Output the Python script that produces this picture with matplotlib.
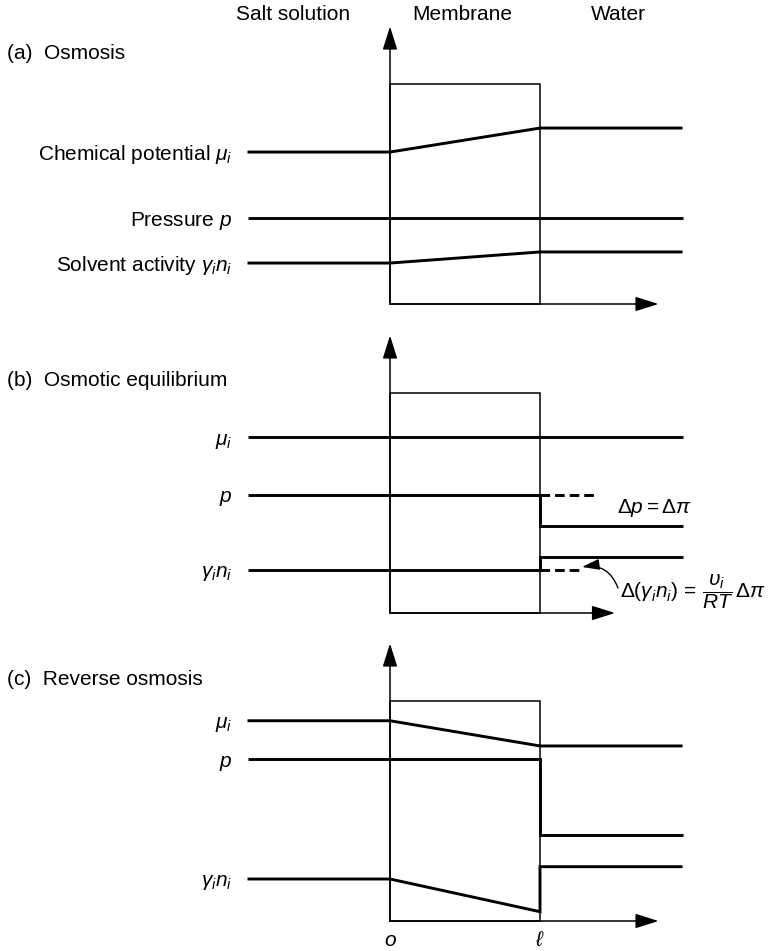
import matplotlib
matplotlib.use("Agg")
import matplotlib.pyplot as plt
from matplotlib.patches import Rectangle

plt.rcParams.update({
    "font.family": "Liberation Sans",
    "font.size": 15,
    "mathtext.fontset": "custom",
    "mathtext.rm": "Liberation Sans",
    "mathtext.it": "Liberation Sans:italic",
    "mathtext.bf": "Liberation Sans:bold",
})

# x positions along the path: solution edge, face o, face l (inside), face l (water side), water edge
x_path = [-0.95, 0.0, 1.0, 1.0, 1.95]

# profiles (1 unit = membrane thickness)
mu_a = [1.013, 1.013, 1.173, 1.173, 1.173]
p_a = [0.573, 0.573, 0.573, 0.573, 0.573]
g_a = [0.273, 0.273, 0.347, 0.347, 0.347]

mu_b = [1.173, 1.173, 1.173, 1.173, 1.173]
p_b = [0.787, 0.787, 0.787, 0.58, 0.58]
g_b = [0.287, 0.287, 0.287, 0.373, 0.373]

mu_c = [1.335, 1.335, 1.167, 1.167, 1.167]
p_c = [1.078, 1.078, 1.078, 0.573, 0.573]
g_c = [0.28, 0.28, 0.062, 0.362, 0.362]

labels_a = [r"Chemical potential $\mu_i$", r"Pressure $p$", r"Solvent activity $\gamma_i n_i$"]
labels_short = [r"$\mu_i$", r"$p$", r"$\gamma_i n_i$"]
titles = ["(a)  Osmosis", "(b)  Osmotic equilibrium", "(c)  Reverse osmosis"]
regions = ["Salt solution", "Membrane", "Water"]
region_x = [-0.647, 0.48, 1.52]

# dashed "old level" continuations in panel (b)
dash_x_p = [1.0, 1.38]
dash_x_g = [1.0, 1.267]

W, H, DPI = 773, 951, 100
X0, U = 390, 150  # pixel of x=0 and pixels per unit

fig = plt.figure(figsize=(W / DPI, H / DPI), dpi=DPI)

THICK = 2.1
THIN = 1.1
arrow_head = "-|>,head_length=0.95,head_width=0.3"


def panel_axes(top_px, bot_px, base_px):
    ax = fig.add_axes([0, 1 - bot_px / H, 1, (bot_px - top_px) / H])
    ax.set_xlim(-X0 / U, (W - X0) / U)
    ax.set_ylim((base_px - bot_px) / U, (base_px - top_px) / U)
    ax.axis("off")
    return ax


def draw_frame(ax, x_tip, box_top=1.467, y_tip=1.85):
    ax.add_patch(Rectangle((0, 0), 1, box_top, fill=False, lw=THIN, ec="black"))
    ax.annotate("", xy=(0, y_tip), xytext=(0, 0),
                arrowprops=dict(arrowstyle=arrow_head, lw=THIN, color="black",
                                shrinkA=0, shrinkB=0))
    ax.annotate("", xy=(x_tip, 0), xytext=(0, 0),
                arrowprops=dict(arrowstyle=arrow_head, lw=THIN, color="black",
                                shrinkA=0, shrinkB=0))


def draw_profiles(ax, profiles, labels):
    for ys, lab in zip(profiles, labels):
        ax.plot(x_path, ys, color="black", lw=THICK,
                solid_capstyle="butt", solid_joinstyle="miter")
        ax.text(-1.053, ys[0] - 0.05, lab, ha="right", va="baseline")


# (a) Osmosis
ax = panel_axes(0, 317, 304)
draw_frame(ax, 1.79)
draw_profiles(ax, [mu_a, p_a, g_a], labels_a)
ax.text(-2.553, 1.673, titles[0], ha="left", va="center")
for name, xr in zip(regions, region_x):
    ax.text(xr, 1.927, name, ha="center", va="center")

# (b) Osmotic equilibrium
ax = panel_axes(317, 625, 613)
draw_frame(ax, 1.5)
draw_profiles(ax, [mu_b, p_b, g_b], labels_short)
ax.text(-2.553, 1.553, titles[1], ha="left", va="center")
ax.plot(dash_x_p, [p_b[2]] * 2, color="black", lw=THICK, dashes=(3.3, 1.7))
ax.plot(dash_x_g, [g_b[2]] * 2, color="black", lw=THICK, dashes=(3.3, 1.7))
ax.text(1.513, 0.70, r"$\Delta p = \Delta\pi$", ha="left", va="center")
ax.text(1.533, 0.14, r"$\Delta(\gamma_i n_i)\,=\,\dfrac{\upsilon_i}{RT}\,\Delta\pi$",
        ha="left", va="center")
ax.annotate("", xy=(1.28, 0.307), xytext=(1.52, 0.167),
            arrowprops=dict(arrowstyle="-|>,head_length=0.7,head_width=0.22",
                            connectionstyle="arc3,rad=0.4", lw=1.0, color="black",
                            shrinkA=0, shrinkB=0))

# (c) Reverse osmosis
ax = panel_axes(625, 951, 921)
draw_frame(ax, 1.79)
draw_profiles(ax, [mu_c, p_c, g_c], labels_short)
ax.text(-2.553, 1.613, titles[2], ha="left", va="center")
ax.text(0, -0.127, r"$o$", ha="center", va="center")
ax.text(1, -0.127, r"$\ell$", ha="center", va="center")

fig.savefig("out.png", dpi=DPI)
